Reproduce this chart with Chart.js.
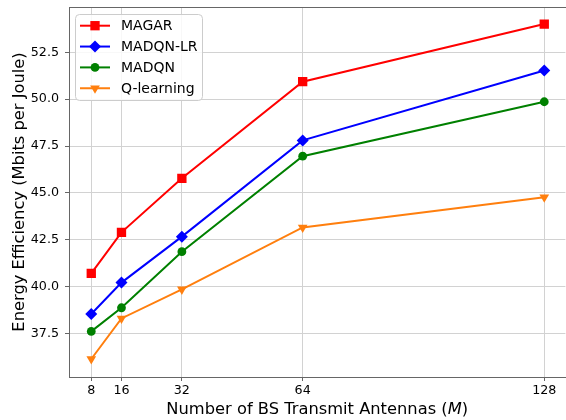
<!DOCTYPE html>
<html>
<head>
<meta charset="utf-8">
<script src="https://cdn.jsdelivr.net/npm/chart.js@4/dist/chart.umd.min.js"></script>
<style>
  html, body { margin: 0; padding: 0; background: #fff; overflow: hidden; }
  #wrap { width: 566px; height: 420px; position: relative; overflow: hidden; }
  #c { position: absolute; left: 0; top: 0; }
</style>
</head>
<body>
<div id="wrap"><canvas id="c" width="572" height="420"></canvas></div>
<script>
// Number of BS transmit antennas (x positions)
const antennas = [8, 16, 32, 64, 128];

// Energy efficiency per method (Mbits per Joule)
const magar     = [40.71, 42.90, 45.78, 50.93, 54.00];
const madqnLR   = [38.55, 40.22, 42.67, 47.80, 51.53];
const madqn     = [37.62, 38.88, 41.87, 46.96, 49.86];
const qLearning = [36.15, 38.31, 39.86, 43.16, 44.77];

// Tick labels
const xTickValues = [8, 16, 32, 64, 128];
const yTickValues = [37.5, 40.0, 42.5, 45.0, 47.5, 50.0, 52.5];

const FONT = "'DejaVu Sans', sans-serif";
const SPINE = '#666666';
const GRID = '#d2d2d2';

const series = [
  { label: 'MAGAR',      data: magar,     color: '#ff0000', style: 'rect',    radius: 6.6, rotation: 0 },
  { label: 'MADQN-LR',   data: madqnLR,   color: '#0000ff', style: 'rectRot', radius: 6,   rotation: 0 },
  { label: 'MADQN',      data: madqn,     color: '#008000', style: 'circle',  radius: 4.4, rotation: 0 },
  { label: 'Q-learning', data: qLearning, color: '#ff7f0e', style: 'triangle',radius: 5.6, rotation: 180 }
];

const datasets = series.map(s => ({
  label: s.label,
  data: antennas.map((x, i) => ({ x: x, y: s.data[i] })),
  borderColor: s.color,
  backgroundColor: s.color,
  pointBackgroundColor: s.color,
  pointBorderColor: s.color,
  pointBorderWidth: 0,
  pointStyle: s.style,
  pointRadius: s.radius,
  pointRotation: s.rotation,
  pointHoverRadius: s.radius,
  borderWidth: 2,
  tension: 0,
  fill: false
}));

// Top spine, axis titles and framed legend
const decorations = {
  id: 'decorations',
  afterDraw(chart) {
    const ctx = chart.ctx;
    const a = chart.chartArea;
    ctx.save();

    // top spine
    ctx.strokeStyle = SPINE;
    ctx.lineWidth = 1;
    ctx.beginPath();
    ctx.moveTo(a.left, Math.round(a.top) + 0.5);
    ctx.lineTo(chart.width, Math.round(a.top) + 0.5);
    ctx.stroke();

    // y axis title
    ctx.fillStyle = '#000';
    ctx.font = '16.3px ' + FONT;
    ctx.save();
    ctx.translate(24, (a.top + a.bottom) / 2);
    ctx.rotate(-Math.PI / 2);
    ctx.textAlign = 'center';
    ctx.textBaseline = 'alphabetic';
    ctx.fillText('Energy Efficiency (Mbits per Joule)', 0, 0);
    ctx.restore();

    // x axis title with italic symbol
    const partA = 'Number of BS Transmit Antennas (';
    const partB = 'M';
    const partC = ')';
    ctx.font = '16.3px ' + FONT;
    const wA = ctx.measureText(partA).width;
    const wC = ctx.measureText(partC).width;
    ctx.font = 'italic 16.3px ' + FONT;
    const wB = ctx.measureText(partB).width;
    const total = wA + wB + wC;
    let x0 = (a.left + a.right) / 2 - total / 2;
    const yb = 414;
    ctx.textAlign = 'left';
    ctx.textBaseline = 'alphabetic';
    ctx.font = '16.3px ' + FONT;
    ctx.fillText(partA, x0, yb);
    ctx.font = 'italic 16.3px ' + FONT;
    ctx.fillText(partB, x0 + wA, yb);
    ctx.font = '16.3px ' + FONT;
    ctx.fillText(partC, x0 + wA + wB, yb);

    // legend
    const bx = 75.5, by = 14.5, bw = 127, bh = 86, r = 4;
    ctx.fillStyle = 'rgba(255,255,255,0.85)';
    ctx.strokeStyle = '#cccccc';
    ctx.lineWidth = 1;
    ctx.beginPath();
    ctx.moveTo(bx + r, by);
    ctx.lineTo(bx + bw - r, by);
    ctx.arcTo(bx + bw, by, bx + bw, by + r, r);
    ctx.lineTo(bx + bw, by + bh - r);
    ctx.arcTo(bx + bw, by + bh, bx + bw - r, by + bh, r);
    ctx.lineTo(bx + r, by + bh);
    ctx.arcTo(bx, by + bh, bx, by + bh - r, r);
    ctx.lineTo(bx, by + r);
    ctx.arcTo(bx, by, bx + r, by, r);
    ctx.closePath();
    ctx.fill();
    ctx.stroke();

    ctx.font = '14px ' + FONT;
    ctx.textBaseline = 'middle';
    ctx.textAlign = 'left';
    series.forEach((s, i) => {
      const cy = 25.7 + i * 20.85;
      ctx.strokeStyle = s.color;
      ctx.lineWidth = 2;
      ctx.beginPath();
      ctx.moveTo(80, cy);
      ctx.lineTo(110, cy);
      ctx.stroke();
      ctx.fillStyle = s.color;
      ctx.strokeStyle = s.color;
      ctx.lineWidth = 0;
      Chart.helpers.drawPoint(ctx, {
        pointStyle: s.style, radius: s.radius, rotation: s.rotation, borderWidth: 0
      }, 95, cy);
      ctx.fillStyle = '#000';
      ctx.fillText(s.label, 121, cy + 1);
    });

    ctx.restore();
  }
};

new Chart(document.getElementById('c'), {
  type: 'line',
  data: { datasets: datasets },
  plugins: [decorations],
  options: {
    responsive: false,
    animation: false,
    events: [],
    layout: { padding: { top: 7, right: 0, bottom: 0, left: 0 } },
    plugins: {
      legend: { display: false },
      tooltip: { enabled: false },
      title: { display: false }
    },
    scales: {
      x: {
        type: 'linear',
        min: 2.1,
        max: 133.6,
        afterFit(scale) {
          scale.height = 43;
          scale.paddingLeft = 0; scale.paddingRight = 0;
          scale.paddingTop = 0; scale.paddingBottom = 0;
        },
        afterBuildTicks(scale) { scale.ticks = xTickValues.map(v => ({ value: v })); },
        ticks: {
          autoSkip: false,
          maxRotation: 0,
          padding: 2,
          color: '#000',
          font: { family: FONT, size: 12.7 },
          callback: v => String(v)
        },
        grid: {
          color: GRID,
          lineWidth: 1,
          drawTicks: true,
          tickLength: 4,
          tickColor: SPINE
        },
        border: { display: true, color: SPINE, width: 1 }
      },
      y: {
        type: 'linear',
        min: 35.19,
        max: 54.91,
        afterFit(scale) {
          scale.width = 69;
          scale.paddingLeft = 0; scale.paddingRight = 0;
          scale.paddingTop = 0; scale.paddingBottom = 0;
        },
        afterBuildTicks(scale) { scale.ticks = yTickValues.map(v => ({ value: v })); },
        ticks: {
          padding: 6,
          color: '#000',
          font: { family: FONT, size: 12.7 },
          callback: v => Number(v).toFixed(1)
        },
        grid: {
          color: GRID,
          lineWidth: 1,
          drawTicks: true,
          tickLength: 4,
          tickColor: SPINE
        },
        border: { display: true, color: SPINE, width: 1 }
      }
    }
  }
});
</script>
</body>
</html>
